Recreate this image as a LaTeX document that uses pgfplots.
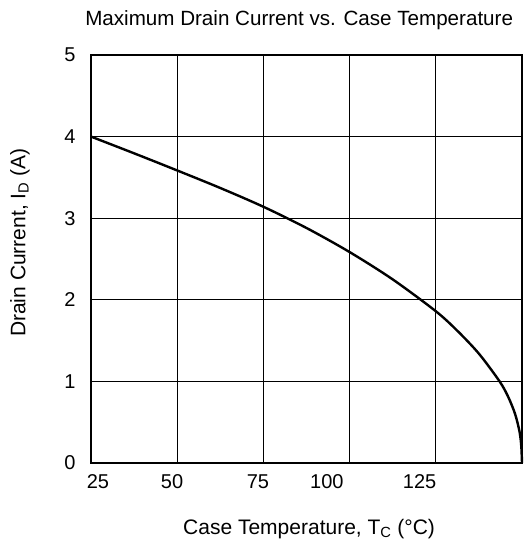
\documentclass[border=0pt]{standalone}
\usepackage{fontspec}
\setmainfont{Liberation Sans}
\usepackage{pgfplots}
\pgfplotsset{compat=1.18}
\begin{document}
\begin{tikzpicture}
\begin{axis}[
  scale only axis, width=431pt, height=408pt,
  xmin=25, xmax=150, ymin=0, ymax=5,
  axis line style={line width=1.4pt},
  xtick={27,48.5,73.4,93.4,120.3},
  xticklabels={25,50,75,100,125},
  ytick={0,1,2,3,4,5},
  major tick length=0pt,
  extra x ticks={50,75,100,125},
  extra x tick labels={},
  extra x tick style={grid=major},
  ymajorgrids,
  grid style={black, line width=0.8pt},
  tick label style={font=\fontsize{20}{24}\selectfont},
  /pgf/number format/assume math mode=true,
  xticklabel style={yshift=-8pt},
  yticklabel style={xshift=-12pt},
  clip=false,
]
\addplot[black, line width=2.4pt, smooth] coordinates {
 (25,4.00) (37.5,3.795) (50,3.585) (62.5,3.37) (75,3.14) (87.5,2.88) (100,2.585)
 (112.5,2.25) (125,1.86) (131.25,1.62) (137.5,1.34) (143.5,1.00) (146,0.81)
 (148,0.60) (149.3,0.38) (149.8,0.20) (150,0)
};
\coordinate (sw) at (rel axis cs:0,0);
\coordinate (ne) at (rel axis cs:1,1);
\node[font=\fontsize{20.6}{24}\selectfont] at (rel axis cs:0.483,1) [yshift=35pt] {Maximum Drain Current vs. Case Temperature};
\node[font=\fontsize{21}{24}\selectfont] at (rel axis cs:0.506,0) [yshift=-66pt] {Case Temperature, T\textsubscript{C} (°C)};
\node[font=\fontsize{21}{24}\selectfont, xshift=-71pt, rotate=90] at (rel axis cs:0,0.54) {Drain Current, I\textsubscript{D} (A)};
\end{axis}
\pgfresetboundingbox
\path ([shift={(-91pt,-82pt)}]sw) rectangle ([shift={(9pt,55pt)}]ne);
\end{tikzpicture}
\end{document}
